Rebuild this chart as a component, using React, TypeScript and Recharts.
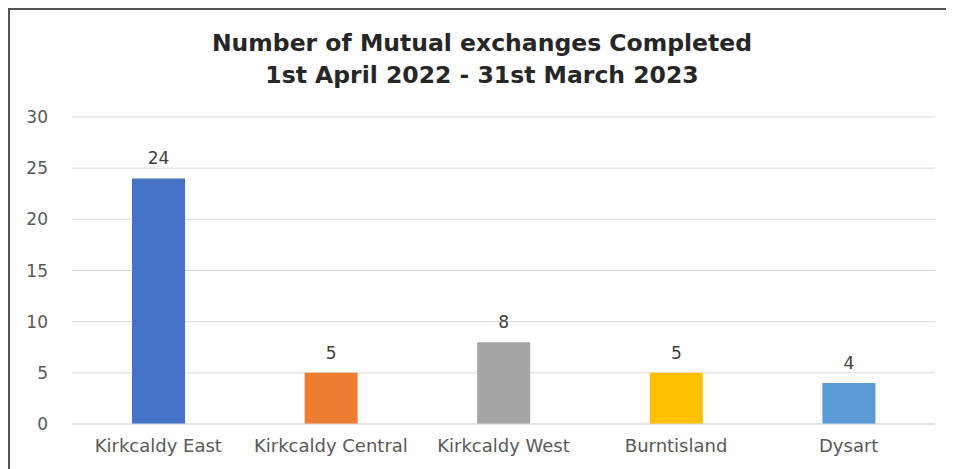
import { BarChart, Bar, XAxis, YAxis, CartesianGrid, Cell, LabelList } from "recharts";

const areas = ["Kirkcaldy East", "Kirkcaldy Central", "Kirkcaldy West", "Burntisland", "Dysart"];
const exchanges = [24, 5, 8, 5, 4];
const barColors = ["#4472C4", "#ED7D31", "#A5A5A5", "#FFC000", "#5B9BD5"];
const yTicks = [0, 5, 10, 15, 20, 25, 30];
const titleLines = ["Number of Mutual exchanges Completed", "1st April 2022 - 31st March 2023"];

const data = areas.map((name, i) => ({ name, value: exchanges[i] }));

const font = "'DejaVu Sans', sans-serif";

export default function App() {
  return (
    <div
      style={{
        position: "relative",
        width: 944,
        height: 459,
        borderTop: "2px solid #555",
        borderLeft: "2px solid #555",
        fontFamily: font,
      }}
    >
      <div
        style={{
          position: "absolute",
          left: 0,
          width: 944,
          top: 17,
          textAlign: "center",
          fontWeight: "bold",
          fontSize: 23.5,
          lineHeight: "32px",
          color: "#262626",
        }}
      >
        {titleLines.map((t) => (
          <div key={t}>{t}</div>
        ))}
      </div>
      <BarChart
        width={944}
        height={459}
        data={data}
        margin={{ top: 107, right: 19, left: 0, bottom: 15 }}
      >
        <CartesianGrid vertical={false} stroke="#d9d9d9" />
        <XAxis
          dataKey="name"
          axisLine={{ stroke: "#d9d9d9" }}
          tickLine={false}
          tickSize={0}
          tickMargin={15}
          height={30}
          interval={0}
          tick={{ fill: "#595959", fontSize: 18, fontFamily: font }}
        />
        <YAxis
          domain={[0, 30]}
          ticks={yTicks}
          width={62}
          axisLine={false}
          tickLine={false}
          tickSize={0}
          tickMargin={24}
          tick={{ fill: "#595959", fontSize: 17, fontFamily: font }}
        />
        <Bar dataKey="value" barSize={53} isAnimationActive={false}>
          {data.map((d, i) => (
            <Cell key={d.name} fill={barColors[i]} />
          ))}
          <LabelList
            dataKey="value"
            position="top"
            offset={14}
            fill="#404040"
            fontSize={17}
            fontFamily={font}
          />
        </Bar>
      </BarChart>
    </div>
  );
}
